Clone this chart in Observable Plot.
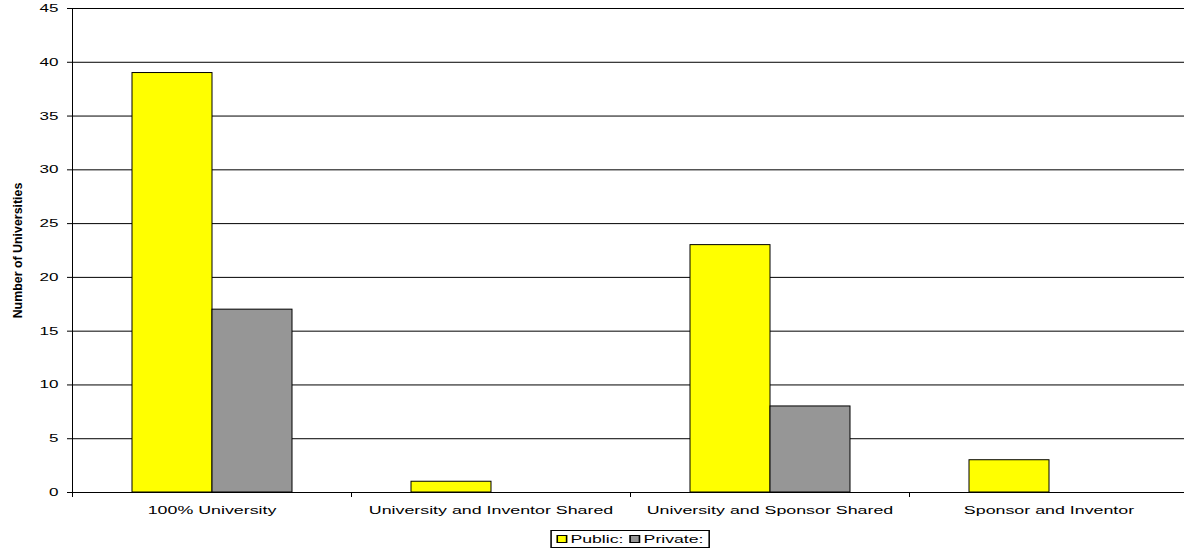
<!DOCTYPE html>
<html>
<head>
<meta charset="utf-8">
<script src="https://cdn.jsdelivr.net/npm/d3@7"></script>
<script src="https://cdn.jsdelivr.net/npm/@observablehq/plot@0.6"></script>
<style>
  html, body { margin: 0; padding: 0; background: #fff; overflow: hidden; }
  #chart { position: relative; width: 1184px; height: 552px; }
  #chart svg { max-width: none; }
  .legend {
    position: absolute;
    top: 530px;
    left: 629.5px;
    transform: translateX(-50%) scaleX(1.55);
    transform-origin: center;
    display: inline-flex;
    align-items: center;
    box-sizing: border-box;
    height: 18px;
    padding: 0 3px;
    border: 1px solid #000;
    background: #fff;
    font: 11.4px "Liberation Sans", Arial, sans-serif;
    color: #000;
    white-space: nowrap;
  }
  .legend .item { display: inline-flex; align-items: center; margin-right: 4px; }
  .legend .item:last-child { margin-right: 0; }
  .legend .swatch {
    display: inline-block;
    width: 5px;
    height: 6px;
    border: 1px solid #000;
    margin-right: 2px;
  }
</style>
</head>
<body>
<div id="chart"></div>
<script>
// Distribution of patent ownership policies, by university type
const categories = [
  "100% University",
  "University and Inventor Shared",
  "University and Sponsor Shared",
  "Sponsor and Inventor"
];
const seriesNames = ["Public:", "Private:"];
const publicCounts = [39, 1, 23, 3];
const privateCounts = [17, 0, 8, 0];
const seriesColors = ["#ffff00", "#969696"];
const yTicks = [0, 5, 10, 15, 20, 25, 30, 35, 40, 45];
const yLabel = "Number of Universities";

// long-format table built from the arrays above
const rows = categories.flatMap((category, i) => [
  {category, series: seriesNames[0], value: publicCounts[i]},
  {category, series: seriesNames[1], value: privateCounts[i]}
]);

const width = 1188;
const marginLeft = 72;
const step = (width - marginLeft) / categories.length;
const barWidth = 80;
const barOffset = 60;
const stretch = 1.55;

const plot = Plot.plot({
  width,
  height: 525,
  marginLeft,
  marginRight: 0,
  marginTop: 8,
  marginBottom: 33,
  style: {fontFamily: "'Liberation Sans', Arial, sans-serif", color: "#000", background: "#fff"},
  x: {domain: categories, padding: 0, label: null},
  y: {domain: [0, 45], label: null},
  color: {domain: seriesNames, range: seriesColors},
  marks: [
    Plot.gridY({ticks: yTicks, stroke: "#000", strokeOpacity: 1}),
    Plot.ruleX([categories[0]], {x: d => d, dx: -step / 2, stroke: "#000"}),
    Plot.axisY({ticks: yTicks, tickSize: 5, tickPadding: 9, fontSize: 11, label: null}),
    // band-boundary ticks below the baseline
    Plot.axisX({tickSize: 5, text: null, dx: -step / 2, label: null}),
    Plot.axisX({tickSize: 0, tickPadding: 13, fontSize: 11.5, label: null}),
    Plot.barY(rows.filter(d => d.series === seriesNames[0]), {
      x: "category", y: "value", fill: "series", stroke: "#000", strokeWidth: 1,
      insetLeft: barOffset, insetRight: step - barOffset - barWidth
    }),
    Plot.barY(rows.filter(d => d.series === seriesNames[1]), {
      x: "category", y: "value", fill: "series", stroke: "#000", strokeWidth: 1,
      insetLeft: barOffset + barWidth, insetRight: step - barOffset - 2 * barWidth
    }),
    Plot.text([yLabel], {
      text: d => d, frameAnchor: "left", textAnchor: "middle", rotate: -90, dx: -54.5,
      fontWeight: "bold", fontSize: 12.4, fill: "#000", ariaLabel: "y-label"
    })
  ]
});

// widen the glyphs of the axis labels horizontally
plot.querySelectorAll('[aria-label="y-axis tick label"] text, [aria-label="x-axis tick label"] text').forEach(t => {
  const tr = t.getAttribute("transform") || "";
  t.setAttribute("transform", `${tr} scale(${stretch},1)`);
});
plot.querySelectorAll('[aria-label="y-label"] text').forEach(t => {
  const tr = t.getAttribute("transform") || "";
  t.setAttribute("transform", `${tr} scale(1,1.2)`);
});

const chart = document.getElementById("chart");
chart.appendChild(plot);

// legend below the chart
const legend = document.createElement("div");
legend.className = "legend";
seriesNames.forEach((name, i) => {
  const item = document.createElement("span");
  item.className = "item";
  const sw = document.createElement("span");
  sw.className = "swatch";
  sw.style.background = seriesColors[i];
  item.appendChild(sw);
  item.appendChild(document.createTextNode(name));
  legend.appendChild(item);
});
chart.appendChild(legend);
</script>
</body>
</html>
